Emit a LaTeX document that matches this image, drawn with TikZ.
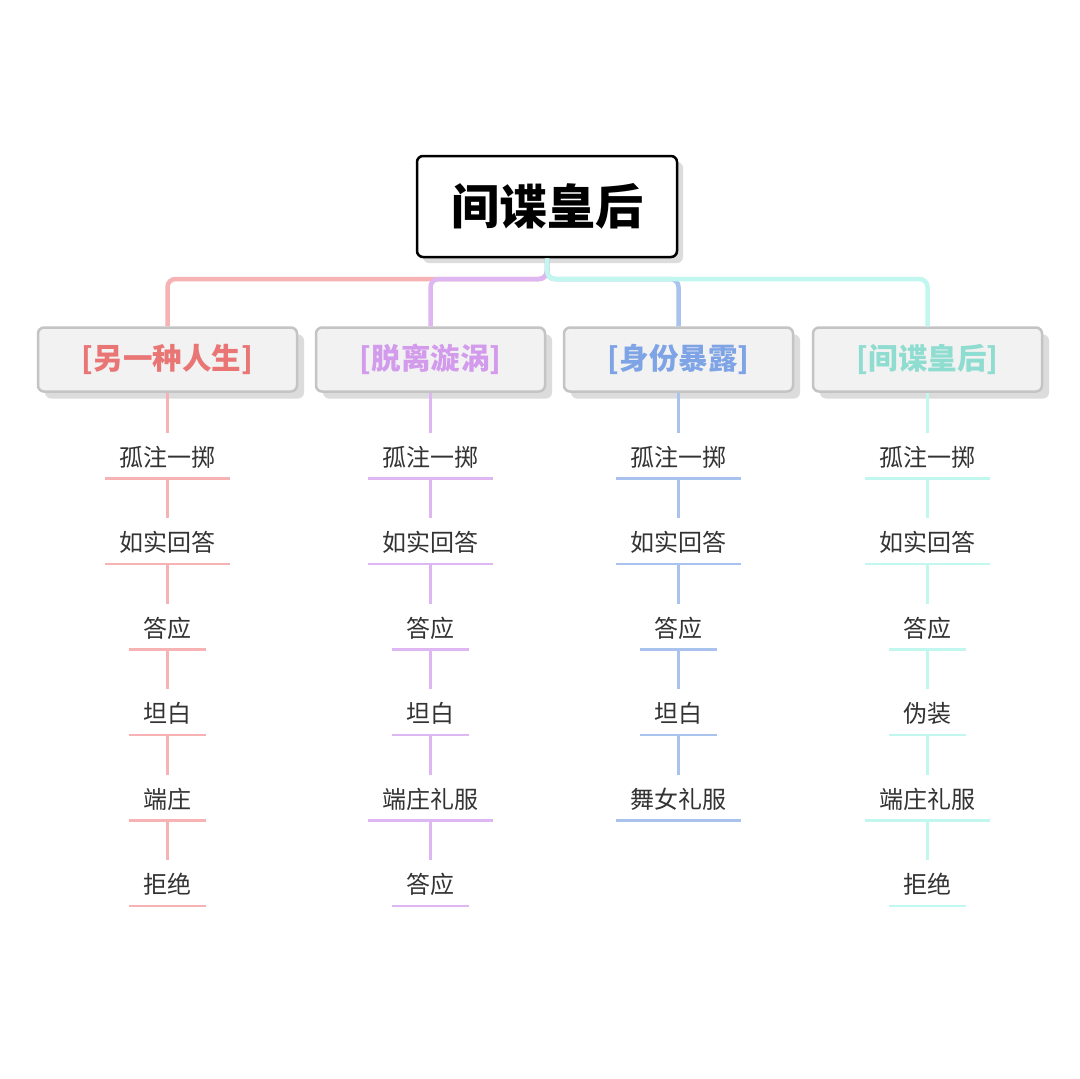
\documentclass[tikz,border=0pt]{standalone}
\usepackage{fontspec}
\setmainfont{Noto Sans CJK SC}
\usetikzlibrary{positioning,shadows}
\definecolor{l1}{HTML}{F7B3B3}\definecolor{t1}{HTML}{E97575}
\definecolor{l2}{HTML}{DDB6F2}\definecolor{t2}{HTML}{D29BEC}
\definecolor{l3}{HTML}{A9C3EE}\definecolor{t3}{HTML}{7FA4E6}
\definecolor{l4}{HTML}{C1F7EE}\definecolor{t4}{HTML}{8EDDD0}
\definecolor{shade}{HTML}{DCDCDC}
\begin{document}
\begin{tikzpicture}[x=1pt,y=-1pt,
  rootbox/.style={draw=black,line width=2.5pt,fill=white,rounded corners=6pt,
    minimum width=260pt,minimum height=101pt,font=\fontsize{48}{50}\selectfont\bfseries,
    drop shadow={shadow xshift=6pt,shadow yshift=-6pt,fill=shade,opacity=1}},
  headbox/.style={draw=black!23,line width=2.5pt,fill=black!5,rounded corners=6pt,
    minimum height=64pt,font=\fontsize{29.5}{31}\selectfont\bfseries,
    drop shadow={shadow xshift=7pt,shadow yshift=-7pt,fill=shade,opacity=1}},
  leaf/.style={inner xsep=14pt,inner ysep=0pt,text height=33pt,text depth=12pt,
    text=black!80,font=\fontsize{24}{26}\selectfont},
  trunk/.style={line width=4.5pt,rounded corners=8pt},
  twig/.style={line width=2.5pt}]
\useasboundingbox[fill=white] (0,0) rectangle (1080,1079);
\node[rootbox] (root) at (547,206.5) {间谍皇后};
\coordinate (bar) at (0,279);
% branch headers
\foreach \m/\x/\w/\lab in {1/167.5/259/{[另一种人生]},2/430.5/229/{[脱离漩涡]},
    3/678.5/229/{[身份暴露]},4/927.5/229/{[间谍皇后]}}
  \node[headbox,text=t\m,minimum width=\w pt] (h\m-0) at (\x,359.5) {\lab};
\foreach \m in {1,...,4}
  \draw[trunk,l\m] (root.south) |- (h\m-0.north |- bar) -- (h\m-0.north);
% leaves
\foreach \m/\lst in {1/{孤注一掷,如实回答,答应,坦白,端庄,拒绝},
    2/{孤注一掷,如实回答,答应,坦白,端庄礼服,答应},
    3/{孤注一掷,如实回答,答应,坦白,舞女礼服},
    4/{孤注一掷,如实回答,答应,伪装,端庄礼服,拒绝}}{
  \foreach \t [count=\i,remember=\i as \j (initially 0)] in \lst {
    \node[leaf,below=40.1pt of h\m-\j] (h\m-\i) {\t};
    \draw[twig,l\m] (h\m-\j.south) -- (h\m-\i.north);
    \draw[twig,l\m] (h\m-\i.south west) -- (h\m-\i.south east);
  }
}
\end{tikzpicture}
\end{document}
